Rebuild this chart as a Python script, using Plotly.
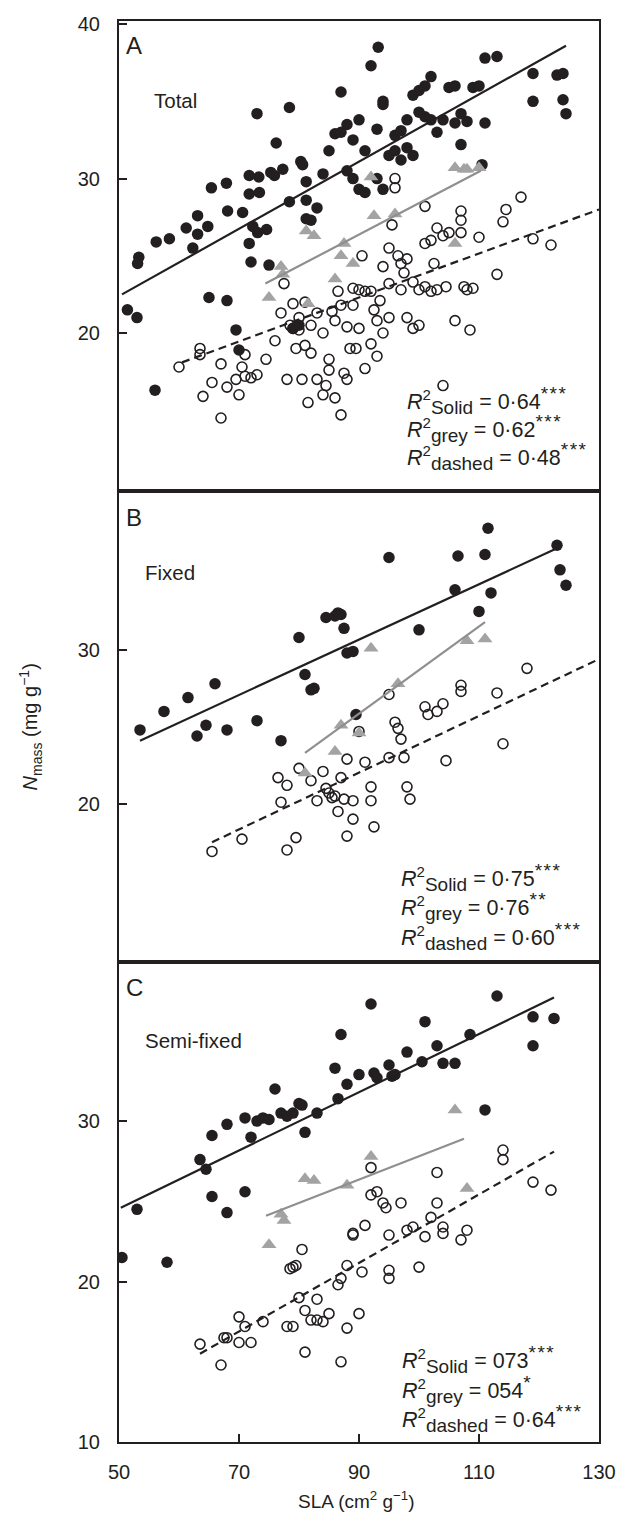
import plotly.graph_objects as go

# ---------------- data ----------------
# Panel A (Total)
A_filled_x = [51.4, 53.3, 53.1, 56.2, 58.4, 61.2, 63.1, 63.1, 64.8, 65.4, 67.9, 68.1, 70.6, 71.7, 73.3, 71.7, 73.4, 72.3, 73.1, 74.6, 71.7, 73.0, 78.4, 76.2, 75.3, 75.9, 77.3, 78.4, 80.3, 80.6, 81.2, 81.2, 81.2, 62.3,
              53, 56, 65, 68, 69.5, 70, 72, 75, 79, 80, 82, 83, 84, 85, 86, 87, 87, 88, 88, 89, 89, 90, 90, 91, 91, 92, 93.2, 93, 93, 94, 94, 94, 95, 96, 96, 97, 97, 98, 98, 99, 99, 100, 100, 101, 101, 102, 102, 103, 104, 105, 106, 106, 107, 107, 108, 109, 110, 110.5, 111, 111, 113, 119, 119, 123, 124, 124, 124.5]
A_filled_y = [21.5, 24.9, 24.5, 25.9, 26.1, 26.8, 27.6, 26.4, 26.9, 29.4, 29.7, 27.9, 27.8, 30.2, 30.1, 29.0, 29.1, 26.9, 26.5, 26.7, 25.8, 34.2, 34.6, 32.3, 30.4, 30.2, 30.6, 28.5, 31.1, 30.9, 29.8, 28.6, 27.4, 25.5,
              21.0, 16.3, 22.3, 22.1, 20.2, 18.9, 24.6, 24.4, 20.3, 20.5, 27.3, 28.1, 30.3, 31.8, 32.9, 33.0, 35.6, 33.5, 30.5, 32.5, 30.0, 29.3, 33.8, 31.8, 29.1, 37.3, 38.5, 33.2, 30.0, 34.8, 35.0, 29.3, 31.5, 32.8, 31.8, 33.1, 31.2, 32.0, 33.8, 31.5, 35.4, 34.3, 35.7, 34.0, 36.0, 33.8, 36.6, 33.0, 33.8, 35.9, 33.6, 36.0, 32.2, 34.2, 33.7, 35.9, 36.0, 30.9, 33.6, 37.8, 37.9, 35.0, 36.8, 36.7, 36.8, 35.1, 34.2]
A_open_x = [60, 63.5, 63.5, 64, 65.5, 67, 67, 68, 69.5, 70, 70.5, 71, 71, 72, 73, 74.5, 76, 77, 77.5, 78, 78.5, 79, 79, 79.5, 80, 80, 80.5, 81, 81, 81.5, 82, 82, 83, 83, 84, 84, 84.5, 85, 85, 85.5, 86, 86, 86.5, 87, 87, 87.5, 88, 88, 88.5, 89, 89, 89.5, 90, 90, 90.5, 91, 91, 92, 92, 92.5, 93, 93, 93.5, 94, 94, 95, 95, 95, 95.5, 96, 96, 96.5, 97, 97, 97.5, 98, 98, 99, 99, 100, 100, 101, 101, 101, 102, 102, 102.5, 103, 103, 104, 104, 104.5, 105, 106, 107, 107, 107, 107.5, 108, 108.5, 109, 110, 113, 114, 114.5, 117, 119, 122]
A_open_y = [17.8, 19.0, 18.6, 15.9, 16.8, 14.5, 18.0, 16.5, 17.0, 16.0, 17.8, 18.6, 17.2, 17.1, 17.3, 18.3, 19.5, 21.3, 23.2, 17.0, 20.5, 21.9, 20.3, 19.0, 21.0, 20.2, 17.0, 22.0, 19.2, 15.5, 20.5, 18.7, 17.0, 21.3, 16.0, 20.0, 16.6, 17.6, 18.3, 21.4, 15.8, 20.8, 22.7, 21.8, 14.7, 17.4, 17.0, 20.4, 19.0, 22.9, 21.8, 19.0, 22.8, 20.3, 25.0, 22.7, 17.7, 22.7, 19.3, 21.5, 20.8, 18.5, 22.1, 24.3, 20.0, 25.5, 21.0, 23.2, 27.0, 29.4, 30.0, 25.0, 22.8, 24.5, 23.9, 24.8, 21.0, 23.3, 20.3, 22.8, 20.5, 25.8, 28.2, 23.0, 26.0, 22.7, 24.5, 26.8, 22.8, 26.3, 16.6, 23.0, 26.5, 20.8, 27.9, 27.3, 26.5, 23.0, 22.8, 20.2, 22.9, 26.2, 23.8, 27.2, 28.0, 28.8, 26.1, 25.7]
A_tri_x = [75, 77, 77.3, 81.2, 82.5, 81.5, 86, 87, 87.5, 89, 92, 92.5, 96, 106, 107.5, 108, 106, 110]
A_tri_y = [22.3, 24.3, 23.8, 26.6, 26.3, 21.9, 23.5, 25.0, 25.8, 24.5, 30.1, 27.6, 27.7, 30.7, 30.6, 30.6, 25.8, 30.7]
A_solid_x, A_solid_y = [50.5, 124.5], [22.5, 38.6]
A_grey_x, A_grey_y = [74.4, 110.3], [23.2, 30.5]
A_dash_x, A_dash_y = [60.5, 130], [18.1, 28.0]

# Panel B (Fixed)
B_filled_x = [53.5, 57.5, 61.5, 63, 64.5, 66, 68, 73, 80, 81, 82, 82.5, 84.5, 86, 86.5, 87, 87.5, 88, 89, 89.5, 77, 95, 100, 106, 106.5, 110, 111, 111.5, 112, 123, 123.5, 124.5]
B_filled_y = [24.8, 26.0, 26.9, 24.4, 25.1, 27.8, 24.8, 25.4, 30.8, 28.4, 27.4, 27.5, 32.1, 32.2, 32.4, 32.3, 31.4, 29.8, 29.9, 25.8, 24.1, 36.0, 31.3, 33.9, 36.1, 32.5, 36.2, 37.9, 33.7, 36.8, 35.2, 34.2]
B_open_x = [65.5, 70.5, 76.5, 77, 78, 79.5, 80, 78, 82, 83, 84, 84.5, 85, 85.5, 86, 86.5, 87, 87.5, 88, 88, 89, 89, 90, 91, 92, 92.5, 92, 95, 95, 96, 96.5, 97, 97.5, 98, 98.5, 101, 101.5, 103, 104, 104.5, 107, 107, 113, 114, 118]
B_open_y = [16.9, 17.7, 21.7, 20.1, 21.2, 17.8, 22.3, 17.0, 21.5, 20.2, 22.1, 21.0, 20.7, 20.4, 20.5, 19.5, 21.7, 20.3, 22.9, 17.9, 20.2, 19.0, 24.7, 22.7, 20.2, 18.5, 21.1, 27.1, 23.0, 25.3, 24.9, 24.2, 23.0, 21.1, 20.3, 26.3, 25.8, 26.0, 26.5, 22.8, 27.7, 27.3, 27.2, 23.9, 28.8]
B_tri_x = [81, 86, 87, 90, 92, 96.5, 108, 111]
B_tri_y = [22.0, 23.4, 25.1, 24.6, 30.1, 27.8, 30.6, 30.7]
B_solid_x, B_solid_y = [53.5, 123], [24.1, 36.6]
B_grey_x, B_grey_y = [81, 111], [23.3, 31.8]
B_dash_x, B_dash_y = [65.5, 130], [17.5, 29.4]

# Panel C (Semi-fixed)
C_filled_x = [50.5, 53, 58, 63.5, 64.5, 65.5, 65.5, 68, 68, 71, 71, 72, 73, 74, 75, 76, 77, 78, 79, 80, 80.5, 81, 83, 86, 86.5, 87, 88, 90, 92, 92.5, 93, 95, 95.5, 96, 98, 100.5, 101, 103, 104, 106, 108.5, 111, 113, 119, 119, 122.5]
C_filled_y = [21.5, 24.5, 21.2, 27.6, 27.0, 25.3, 29.1, 29.8, 24.3, 25.6, 30.2, 29.0, 30.0, 30.2, 30.1, 32.0, 30.5, 30.3, 30.5, 31.1, 31.0, 29.3, 30.5, 33.3, 31.4, 35.4, 32.3, 32.9, 37.3, 33.0, 32.7, 33.5, 32.8, 32.9, 34.3, 33.7, 36.2, 34.7, 33.6, 33.6, 35.4, 30.7, 37.8, 36.5, 34.7, 36.4]
C_open_x = [63.5, 67, 67.5, 68, 70, 70, 71, 72, 74, 78, 78.5, 79, 79, 79.5, 80, 80.5, 81, 81, 82, 83, 83, 84, 85, 86.5, 87, 87, 88, 88, 89, 89, 90, 90.5, 91, 92, 92, 93, 94, 94.5, 95, 95, 95, 97, 98, 99, 100, 101, 102, 103, 103, 104, 104, 107, 108, 114, 114, 119, 122]
C_open_y = [16.1, 14.8, 16.5, 16.5, 16.2, 17.8, 17.2, 16.2, 17.5, 17.2, 20.8, 20.9, 17.2, 21.0, 19.0, 22.0, 15.6, 18.2, 17.6, 17.6, 18.9, 17.5, 18.0, 19.8, 15.0, 20.2, 17.1, 21.0, 23.0, 22.9, 18.0, 20.6, 23.5, 25.4, 27.1, 25.6, 24.9, 24.6, 22.9, 20.7, 20.2, 24.9, 23.2, 23.4, 20.9, 22.8, 24.0, 26.8, 24.9, 23.4, 23.0, 22.6, 23.2, 28.2, 27.6, 26.2, 25.7]
C_tri_x = [75, 77, 77.5, 81, 82.5, 88, 92, 106, 108]
C_tri_y = [22.3, 24.2, 23.8, 26.4, 26.3, 26.0, 27.8, 30.7, 25.8]
C_solid_x, C_solid_y = [50.3, 122.5], [24.6, 37.7]
C_grey_x, C_grey_y = [74.5, 107.5], [24.1, 28.9]
C_dash_x, C_dash_y = [63.5, 122.5], [15.5, 28.1]

panel_letters = ["A", "B", "C"]
panel_names = ["Total", "Fixed", "Semi-fixed"]
r2_labels = ["Solid", "grey", "dashed"]
r2_values = [["0·64", "0·62", "0·48"], ["0·75", "0·76", "0·60"], ["073", "054", "0·64"]]
r2_stars = [["***", "***", "***"], ["***", "**", "***"], ["***", "*", "***"]]
x_ticks = [50, 70, 90, 110, 130]

# ---------------- styling ----------------
INK = "#231f20"
GREY_TRI = "#a3a3a3"
GREY_LINE = "#8f8f8f"
FONT = "Liberation Sans, Arial, sans-serif"

panels = [
    dict(fx=A_filled_x, fy=A_filled_y, ox=A_open_x, oy=A_open_y, tx=A_tri_x, ty=A_tri_y,
         s=(A_solid_x, A_solid_y), g=(A_grey_x, A_grey_y), d=(A_dash_x, A_dash_y),
         domain=[0.669, 1.0], yrange=[9.75, 40.2], ytv=[20, 30, 40]),
    dict(fx=B_filled_x, fy=B_filled_y, ox=B_open_x, oy=B_open_y, tx=B_tri_x, ty=B_tri_y,
         s=(B_solid_x, B_solid_y), g=(B_grey_x, B_grey_y), d=(B_dash_x, B_dash_y),
         domain=[0.3376, 0.669], yrange=[9.7, 40.3], ytv=[20, 30]),
    dict(fx=C_filled_x, fy=C_filled_y, ox=C_open_x, oy=C_open_y, tx=C_tri_x, ty=C_tri_y,
         s=(C_solid_x, C_solid_y), g=(C_grey_x, C_grey_y), d=(C_dash_x, C_dash_y),
         domain=[0.0, 0.3376], yrange=[10, 39.9], ytv=[10, 20, 30]),
]
r2_pos_y = [[15.6, 13.8, 12.0], [15.2, 13.3, 11.4], [15.15, 13.3, 11.45]]
r2_pos_x = [97.7, 96.7, 96.9]

fig = go.Figure()
annotations = []
for i, p in enumerate(panels):
    n = "" if i == 0 else str(i + 1)
    xa, ya = "x" + n, "y" + n
    fig.add_trace(go.Scatter(x=p["ox"], y=p["oy"], mode="markers", xaxis=xa, yaxis=ya,
                             marker=dict(symbol="circle-open", size=10, color=INK, line=dict(width=1.6, color=INK))))
    fig.add_trace(go.Scatter(x=p["fx"], y=p["fy"], mode="markers", xaxis=xa, yaxis=ya,
                             marker=dict(symbol="circle", size=11.5, color=INK, line=dict(width=0))))
    fig.add_trace(go.Scatter(x=p["tx"], y=p["ty"], mode="markers", xaxis=xa, yaxis=ya,
                             marker=dict(symbol="triangle-up", size=13, color=GREY_TRI, line=dict(width=0))))
    fig.add_trace(go.Scatter(x=p["s"][0], y=p["s"][1], mode="lines", xaxis=xa, yaxis=ya,
                             line=dict(color=INK, width=2.2)))
    fig.add_trace(go.Scatter(x=p["g"][0], y=p["g"][1], mode="lines", xaxis=xa, yaxis=ya,
                             line=dict(color=GREY_LINE, width=2.2)))
    fig.add_trace(go.Scatter(x=p["d"][0], y=p["d"][1], mode="lines", xaxis=xa, yaxis=ya,
                             line=dict(color=INK, width=2.2, dash="8px,5px")))

    axis_common = dict(showline=True, mirror=True, linewidth=2, linecolor=INK,
                       showgrid=False, zeroline=False,
                       tickfont=dict(family=FONT, size=20, color=INK))
    fig.update_layout(**{
        "xaxis" + n: dict(axis_common, domain=[0, 1], range=[50, 130], anchor=ya,
                          tickvals=x_ticks if i == 2 else [], ticks="inside" if i == 2 else "",
                          ticklen=8, tickwidth=2, tickcolor=INK, showticklabels=(i == 2),
                          ticklabelstandoff=11),
        "yaxis" + n: dict(axis_common, domain=p["domain"], range=p["yrange"], anchor=xa,
                          tickvals=p["ytv"], ticks="inside", ticklen=8, tickwidth=2, tickcolor=INK,
                          ticklabelstandoff=13),
    })
    annotations.append(dict(x=50.9, y=38.6 if i < 2 else 38.3, xref=xa, yref=ya, text=panel_letters[i],
                            showarrow=False, xanchor="left", yanchor="middle",
                            font=dict(family=FONT, size=24, color=INK)))
    annotations.append(dict(x=55.5 if i == 0 else 54.0, y=35.05, xref=xa, yref=ya, text=panel_names[i],
                            showarrow=False, xanchor="left", yanchor="middle",
                            font=dict(family=FONT, size=20.5, color=INK)))
    for k in range(3):
        txt = ("<i>R</i><sup>2</sup><sub><span style='font-size:19px'>%s</span></sub> = %s"
               "<sup><span style='font-size:19px;letter-spacing:1.5px'>%s</span></sup>") % (
                   r2_labels[k], r2_values[i][k], r2_stars[i][k])
        annotations.append(dict(x=r2_pos_x[i], y=r2_pos_y[i][k], xref=xa, yref=ya, text=txt,
                                showarrow=False, xanchor="left", yanchor="middle",
                                font=dict(family=FONT, size=21.5, color=INK)))

annotations.append(dict(x=-0.185, y=0.503, xref="paper", yref="paper",
                        text="<i>N</i><sub>mass</sub> (mg g<sup>−1</sup>)", textangle=-90,
                        showarrow=False, xanchor="center", yanchor="middle",
                        font=dict(family=FONT, size=20, color=INK)))
annotations.append(dict(x=0.495, y=-0.041, xref="paper", yref="paper",
                        text="SLA (cm<sup>2</sup> g<sup>−1</sup>)",
                        showarrow=False, xanchor="center", yanchor="middle",
                        font=dict(family=FONT, size=19, color=INK)))

fig.update_layout(width=629, height=1516, margin=dict(l=119, r=30, t=21, b=74),
                  paper_bgcolor="white", plot_bgcolor="white", showlegend=False,
                  annotations=annotations)
fig.write_html("out.html")
